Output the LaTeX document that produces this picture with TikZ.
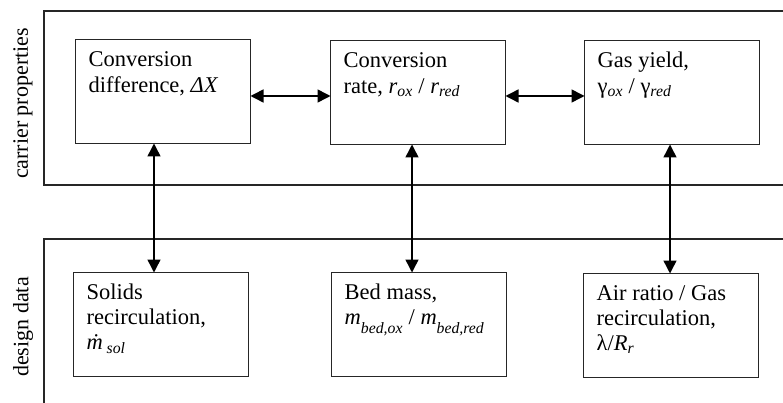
\documentclass[tikz,border=0pt]{standalone}
\usepackage{fontspec}
\setmainfont{Liberation Serif}
\usetikzlibrary{arrows.meta}

\newcommand{\lo}[1]{\textsubscript{\textit{#1}}}

\begin{document}
\begin{tikzpicture}[x=1pt,y=-1pt,
  frame/.style={draw=black!85,line width=1.2pt},
  box/.style={draw=black!85,line width=1pt,rectangle,inner sep=0pt,
    minimum width=175pt,minimum height=104pt,anchor=north west},
  txt/.style={anchor=base west,inner sep=0pt,align=left,
    font=\fontsize{22.5}{25.3}\selectfont},
  side/.style={rotate=90,inner sep=0pt,font=\fontsize{22}{25}\selectfont},
  link/.style={line width=1.5pt,{Triangle[length=13pt,width=13pt]}-{Triangle[length=13pt,width=13pt]},shorten <=-0.5pt,shorten >=-0.5pt}]
  \useasboundingbox (0,0) rectangle (783,403);

  % two open frames
  \draw[frame] (783,11) -- (44,11) -- (44,185) -- (783,185);
  \draw[frame] (783,239) -- (44,239) -- (44,403);

  % frame titles
  \node[side] (tcar) at (23,103.5) {carrier properties};
  \node[side] (tdes) at (23,327) {design data};

  % carrier property boxes
  \node[box] (b1) at (75,39) {};
  \node[box] (b2) at (330,40) {};
  \node[box] (b3) at (584,40) {};
  % design data boxes
  \node[box] (b4) at (73,272) {};
  \node[box] (b5) at (331,272) {};
  \node[box] (b6) at (583,273) {};

  % box contents (anchored on the baseline of the last line)
  \node[txt] (t1) at ([shift={(13.5,53.1)}]b1.north west)
    {Conversion\\difference, \textit{ΔX}};
  \node[txt] (t2) at ([shift={(13.5,53.1)}]b2.north west)
    {Conversion\\rate, \textit{r}\lo{ox} / \textit{r}\lo{red}};
  \node[txt] (t3) at ([shift={(13.5,53.1)}]b3.north west)
    {Gas yield,\\γ\lo{ox} / γ\lo{red}};
  \node[txt] (t4) at ([shift={(13.5,77.6)}]b4.north west)
    {Solids\\recirculation,\\\textit{\.{m}}\,\lo{sol}};
  \node[txt] (t5) at ([shift={(13.5,52.3)}]b5.north west)
    {Bed mass,\\\textit{m}\raisebox{-0.5ex}{\lo{bed,ox}} / \textit{m}\raisebox{-0.5ex}{\lo{bed,red}}};
  \node[txt] (t6) at ([shift={(13.5,77.6)}]b6.north west)
    {Air ratio / Gas\\recirculation,\\λ/\textit{R}\lo{r}};

  % horizontal links
  \draw[link] ([yshift=-57]b1.north east) -- ([yshift=-56]b2.north west);
  \draw[link] ([yshift=-56]b2.north east) -- ([yshift=-56]b3.north west);

  % vertical links
  \coordinate (v1) at (154,0);
  \coordinate (v2) at (412,0);
  \coordinate (v3) at (670,0);
  \draw[link] (b1.south -| v1) -- (b4.north -| v1);
  \draw[link] (b2.south -| v2) -- (b5.north -| v2);
  \draw[link] (b3.south -| v3) -- (b6.north -| v3);
\end{tikzpicture}
\end{document}
